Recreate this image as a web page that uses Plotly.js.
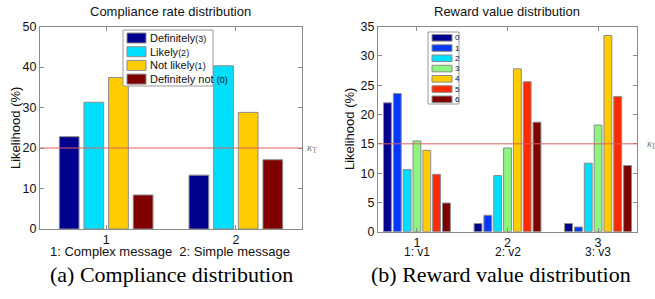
<!DOCTYPE html>
<html>
<head>
<meta charset="utf-8">
<script src="https://cdn.plot.ly/plotly-3.0.1.min.js"></script>
<style>html,body{margin:0;padding:0;background:#fff}#chart{width:655px;height:299px}</style>
</head>
<body>
<div id="chart"></div>
<script>
// ---- Data: (a) Compliance distribution ----
const complianceGroups = [1, 2];
const complianceTickText = ['1', '2'];
const complianceNames = ['Definitely', 'Likely', 'Not likely', 'Definitely not'];
const complianceCodes = ['(3)', '(2)', '(1)', '(0)'];
const definitely = [22.8, 13.3];
const likely = [31.3, 40.3];
const notLikely = [37.4, 28.8];
const definitelyNot = [8.4, 17.1];
const complianceThreshold = 20;

// ---- Data: (b) Reward value distribution ----
const rewardGroups = [1, 2, 3];
const rewardTickText = ['1', '2', '3'];
const rewardSubLabels = ['1: v1', '2: v2', '3: v3'];
const rewardNames = ['0', '1', '2', '3', '4', '5', '6'];
const reward0 = [22.0, 1.4, 1.4];
const reward1 = [23.6, 2.8, 0.8];
const reward2 = [10.6, 9.6, 11.7];
const reward3 = [15.5, 14.3, 18.2];
const reward4 = [13.9, 27.8, 33.5];
const reward5 = [9.8, 25.6, 23.1];
const reward6 = [4.9, 18.7, 11.3];
const rewardThreshold = 15;

// ---- Styles ----
const compColors = ['#00008f', '#00dfff', '#ffcc00', '#800000'];
const rewColors = ['#00008f', '#0038ff', '#00dfff', '#8cf57f', '#ffcc00', '#ff2a00', '#800000'];
const W = 655, H = 299;
const px = v => v / W;
const py = v => 1 - v / H;
const FONT = 'Liberation Sans, Arial, sans-serif';

const compSeries = [definitely, likely, notLikely, definitelyNot];
const rewSeries = [reward0, reward1, reward2, reward3, reward4, reward5, reward6];

const traces = [];
compSeries.forEach((ys, i) => traces.push({
  type: 'bar', x: complianceGroups, y: ys, name: complianceNames[i],
  xaxis: 'x', yaxis: 'y', showlegend: false,
  marker: {color: compColors[i], line: {color: '#8c8c8c', width: 1}}
}));
rewSeries.forEach((ys, i) => traces.push({
  type: 'bar', x: rewardGroups, y: ys, name: rewardNames[i],
  xaxis: 'x2', yaxis: 'y2', showlegend: false,
  marker: {color: rewColors[i], line: {color: '#8c8c8c', width: 1}}
}));

const axisCommon = {
  showline: true, linecolor: '#8a8a8a', linewidth: 1, mirror: 'ticks',
  ticks: 'inside', ticklen: 4, tickcolor: '#8a8a8a', showgrid: false, zeroline: false,
  tickfont: {family: FONT, size: 12.5, color: '#111'}
};

const shapes = [
  {type: 'line', xref: 'x domain', yref: 'y', x0: 0, x1: 1, y0: complianceThreshold, y1: complianceThreshold,
   line: {color: '#e06060', width: 1}},
  {type: 'line', xref: 'x2 domain', yref: 'y2', x0: 0, x1: 1, y0: rewardThreshold, y1: rewardThreshold,
   line: {color: '#e06060', width: 1}}
];
const annotations = [
  {text: 'Compliance rate distribution', xref: 'paper', yref: 'paper', x: px(170), y: py(12), showarrow: false,
   font: {family: FONT, size: 13, color: '#111'}, xanchor: 'center', yanchor: 'middle'},
  {text: 'Reward value distribution', xref: 'paper', yref: 'paper', x: px(507), y: py(12), showarrow: false,
   font: {family: FONT, size: 13, color: '#111'}, xanchor: 'center', yanchor: 'middle'},
  {text: '1: Complex message&nbsp;&nbsp;2: Simple message', xref: 'paper', yref: 'paper', x: px(170), y: py(251), showarrow: false,
   font: {family: FONT, size: 13, color: '#111'}, xanchor: 'center', yanchor: 'middle'},
  {text: 'Likelihood (%)', xref: 'paper', yref: 'paper', x: px(16), y: py(128), showarrow: false, textangle: -90,
   font: {family: FONT, size: 13, color: '#111'}, xanchor: 'center', yanchor: 'middle'},
  {text: 'Likelihood (%)', xref: 'paper', yref: 'paper', x: px(350), y: py(129), showarrow: false, textangle: -90,
   font: {family: FONT, size: 13, color: '#111'}, xanchor: 'center', yanchor: 'middle'},
  {text: '(a) Compliance distribution', xref: 'paper', yref: 'paper', x: px(171), y: py(274), showarrow: false,
   font: {family: 'Liberation Serif, Times New Roman, serif', size: 22, color: '#000'}, xanchor: 'center', yanchor: 'middle'},
  {text: '(b) Reward value distribution', xref: 'paper', yref: 'paper', x: px(501), y: py(274), showarrow: false,
   font: {family: 'Liberation Serif, Times New Roman, serif', size: 22, color: '#000'}, xanchor: 'center', yanchor: 'middle'},
  {text: '<i>κ</i><sub>T</sub>', xref: 'paper', yref: 'y', x: px(305), y: complianceThreshold, showarrow: false,
   font: {family: 'Liberation Serif, serif', size: 11, color: '#777'}, xanchor: 'left', yanchor: 'middle'},
  {text: '<i>κ</i><sub>I</sub>', xref: 'paper', yref: 'y2', x: px(645), y: rewardThreshold, showarrow: false,
   font: {family: 'Liberation Serif, serif', size: 11, color: '#777'}, xanchor: 'left', yanchor: 'middle'}
];
rewardGroups.forEach((g, i) => annotations.push({
  text: rewardSubLabels[i], xref: 'x2', yref: 'paper', x: g, y: py(252), showarrow: false,
  font: {family: FONT, size: 12, color: '#111'}, xanchor: 'center', yanchor: 'middle'
}));

// Legend (a)
shapes.push({type: 'rect', xref: 'paper', yref: 'paper', x0: px(123), x1: px(213), y0: py(30), y1: py(86),
  line: {color: '#999', width: 1}, fillcolor: '#fff', layer: 'above'});
complianceNames.forEach((n, i) => {
  const cy = 38 + i * 13.7;
  shapes.push({type: 'rect', xref: 'paper', yref: 'paper', x0: px(127), x1: px(146), y0: py(cy - 5), y1: py(cy + 5),
    line: {color: '#8c8c8c', width: 1}, fillcolor: compColors[i], layer: 'above'});
  annotations.push({text: n + (i === 3 ? '&nbsp;' : '') + '<span style="font-size:9px">' + complianceCodes[i] + '</span>',
    xref: 'paper', yref: 'paper', x: px(148), y: py(cy), showarrow: false, xanchor: 'left', yanchor: 'middle',
    font: {family: FONT, size: 11, color: '#111'}});
});
// Legend (b)
shapes.push({type: 'rect', xref: 'paper', yref: 'paper', x0: px(428), x1: px(459), y0: py(32), y1: py(104),
  line: {color: '#999', width: 1}, fillcolor: '#fff', layer: 'above'});
rewardNames.forEach((n, i) => {
  const cy = 37.8 + i * 10.25;
  shapes.push({type: 'rect', xref: 'paper', yref: 'paper', x0: px(432), x1: px(452), y0: py(cy - 3.3), y1: py(cy + 3.3),
    line: {color: '#8c8c8c', width: 1}, fillcolor: rewColors[i], layer: 'above'});
  annotations.push({text: n, xref: 'paper', yref: 'paper', x: px(453), y: py(cy), showarrow: false,
    xanchor: 'left', yanchor: 'middle', font: {family: FONT, size: 8, color: '#111'}});
});

const layout = {
  width: W, height: H, margin: {l: 0, r: 0, t: 0, b: 0},
  paper_bgcolor: '#fff', plot_bgcolor: '#fff',
  barmode: 'group', bargap: 0.24, bargroupgap: 0.2,
  showlegend: false,
  xaxis: Object.assign({}, axisCommon, {domain: [px(40), px(302)], range: [0.49, 2.51],
    tickmode: 'array', tickvals: complianceGroups, ticktext: complianceTickText, anchor: 'y', ticklabelstandoff: -1}),
  yaxis: Object.assign({}, axisCommon, {domain: [py(229), py(26.5)], range: [0, 50], dtick: 10, anchor: 'x'}),
  xaxis2: Object.assign({}, axisCommon, {domain: [px(378), px(637)], range: [0.57, 3.43],
    tickmode: 'array', tickvals: rewardGroups, ticktext: rewardTickText, anchor: 'y2', ticklabelstandoff: -1}),
  yaxis2: Object.assign({}, axisCommon, {domain: [py(231.7), py(26.7)], range: [0, 35], dtick: 5, anchor: 'x2'}),
  shapes: shapes, annotations: annotations
};

Plotly.newPlot('chart', traces, layout, {displayModeBar: false, staticPlot: true});
</script>
</body>
</html>
